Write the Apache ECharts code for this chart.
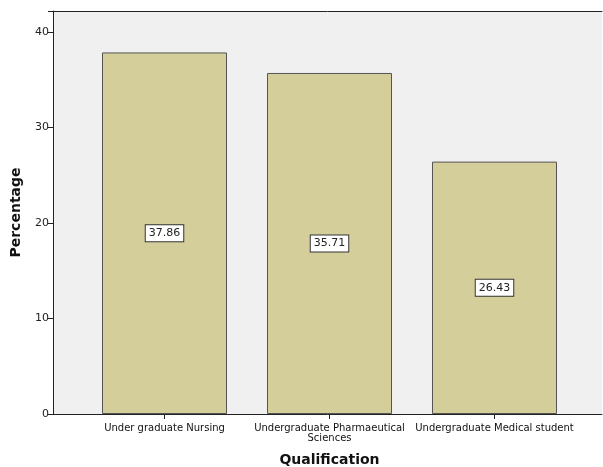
<!DOCTYPE html>
<html>
<head>
<meta charset="utf-8">
<script src="https://cdn.jsdelivr.net/npm/echarts@6/dist/echarts.min.js"></script>
<style>
  html, body { margin: 0; padding: 0; background: #fff; }
  #chart { width: 603px; height: 467px; }
</style>
</head>
<body>
<div id="chart"></div>
<script>
// 数据
const categories = ['Under graduate Nursing', 'Undergraduate Pharmaeutical\nSciences', 'Undergraduate Medical student']
const percentValues = [37.86, 35.71, 26.43]
const yTicks = [0, 10, 20, 30, 40]

const chart = echarts.init(document.getElementById('chart'))
const font = 'DejaVu Sans, sans-serif'
const axisColor = '#222'

// 只画线的辅助 x 轴（外框上下边）
const frameAxis = pos => ({
  gridIndex: 0, type: 'value', position: pos, min: 0, max: 1,
  axisLine: { show: true, onZero: false, lineStyle: { color: axisColor } },
  axisTick: { show: false }, axisLabel: { show: false }, splitLine: { show: false }
})

const option = {
  animation: false,
  textStyle: { fontFamily: font },
  grid: [
    // 外框 + y 轴
    { left: 53, right: 1, top: 11, bottom: 53, show: true, backgroundColor: '#f0f0f0', borderWidth: 0, outerBoundsMode: 'none' },
    // 柱子所在区域（SPSS 两侧留白）
    { left: 82, right: 26, top: 11, bottom: 53, outerBoundsMode: 'none' }
  ],
  xAxis: [
    frameAxis('top'),
    frameAxis('bottom'),
    {
      gridIndex: 1,
      type: 'category',
      data: categories,
      name: 'Qualification',
      nameLocation: 'middle',
      nameGap: 39,
      nameTextStyle: { fontSize: 14, fontWeight: 'bold', color: '#111', fontFamily: font },
      axisLine: { show: false },
      axisTick: { show: true, alignWithLabel: true, length: 5, lineStyle: { color: axisColor } },
      axisLabel: { interval: 0, fontSize: 10, color: '#111', lineHeight: 10, margin: 9, fontFamily: font }
    }
  ],
  yAxis: [
    {
      gridIndex: 0,
      type: 'value',
      min: 0,
      max: 42.2,
      interval: 10,
      name: 'Percentage',
      nameLocation: 'middle',
      nameGap: 30,
      nameTextStyle: { fontSize: 14, fontWeight: 'bold', color: '#111', fontFamily: font },
      axisLine: { show: true, lineStyle: { color: axisColor } },
      axisTick: { show: true, length: 5, lineStyle: { color: axisColor } },
      axisLabel: { fontSize: 11, color: '#222', margin: 4, fontFamily: font,
        formatter: v => (yTicks.includes(v) ? String(v) : '') },
      splitLine: { show: false }
    },
    { gridIndex: 1, type: 'value', min: 0, max: 42.2, show: false }
  ],
  series: [
    {
      type: 'bar',
      xAxisIndex: 2,
      yAxisIndex: 1,
      data: percentValues,
      barWidth: 125,
      itemStyle: { color: '#d3ce9a', borderColor: '#555', borderWidth: 1 },
      label: {
        show: true,
        position: 'inside',
        formatter: p => p.value.toFixed(2),
        fontSize: 11,
        color: '#222',
        fontFamily: font,
        backgroundColor: '#fff',
        borderColor: '#333',
        borderWidth: 1,
        padding: [3, 3, 2, 3]
      }
    }
  ]
}

chart.setOption(option)
</script>
</body>
</html>
